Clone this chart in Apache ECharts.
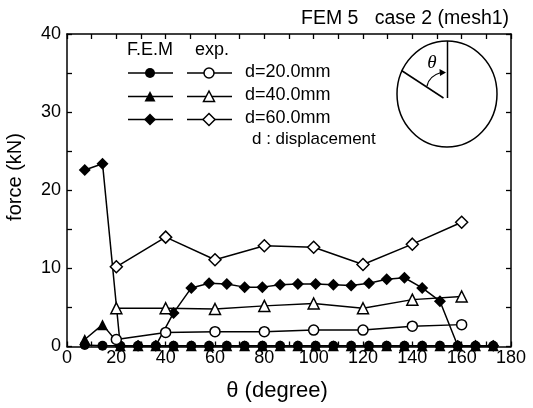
<!DOCTYPE html>
<html>
<head>
<meta charset="utf-8">
<script src="https://cdn.jsdelivr.net/npm/echarts@6/dist/echarts.min.js"></script>
<style>
  html, body { margin: 0; padding: 0; background: #fff; }
  #chart { width: 533px; height: 408px; }
</style>
</head>
<body>
<div id="chart"></div>
<script>
// Angle positions (degree) of the F.E.M nodes and of the experiment gauges
const thetaFem = [7.2, 14.4, 21.6, 28.8, 36.0, 43.2, 50.4, 57.6, 64.8, 72.0, 79.2, 86.4,
                  93.6, 100.8, 108.0, 115.2, 122.4, 129.6, 136.8, 144.0, 151.2, 158.4, 165.6, 172.8];
const thetaExp = [20, 40, 60, 80, 100, 120, 140, 160];

// F.E.M contact force (kN)
const femD20 = [0.2, 0.1, 0.1, 0.1, 0.1, 0.1, 0.1, 0.1, 0.1, 0.1, 0.1, 0.1,
                0.1, 0.1, 0.1, 0.1, 0.1, 0.1, 0.1, 0.1, 0.1, 0.1, 0.1, 0.1];
const femD40 = [0.9, 2.8, 0.1, 0.1, 0.1, 0.1, 0.1, 0.1, 0.1, 0.1, 0.1, 0.1,
                0.1, 0.1, 0.1, 0.1, 0.1, 0.1, 0.1, 0.1, 0.1, 0.1, 0.1, 0.1];
const femD60 = [22.6, 23.4, 0.1, 0.1, 0.1, 4.3, 7.5, 8.1, 8.0, 7.6, 7.6, 7.9,
                8.0, 8.0, 7.9, 7.8, 8.1, 8.6, 8.8, 7.5, 5.8, 0.1, 0.1, 0.1];

// Measured force (kN)
const expD20 = [0.9, 1.8, 1.9, 1.9, 2.1, 2.1, 2.6, 2.8];
const expD40 = [4.9, 4.9, 4.8, 5.2, 5.5, 4.9, 6.0, 6.4];
const expD60 = [10.2, 14.0, 11.1, 12.9, 12.7, 10.5, 13.1, 15.9];

const displacementLabels = ['d=20.0mm', 'd=40.0mm', 'd=60.0mm'];
const titleText = 'FEM 5   case 2 (mesh1)';

const FONT = 'Arial, "Liberation Sans", Helvetica, sans-serif';
const INK = '#000';
const LW = 1.5;

function pairs(xs, ys) { return xs.map((x, i) => [x, ys[i]]); }

function lineSeries(name, xs, ys, symbol, size, filled, z) {
  return {
    name: name,
    type: 'line',
    data: pairs(xs, ys),
    symbol: symbol,
    symbolSize: size,
    showSymbol: true,
    z: z,
    lineStyle: { color: INK, width: LW },
    itemStyle: { color: filled ? INK : '#fff', borderColor: INK, borderWidth: filled ? 0 : LW },
    emphasis: { disabled: true },
    animation: false
  };
}

// legend marker drawn as a graphic element
function marker(kind, cx, cy, filled) {
  const style = { fill: filled ? INK : '#fff', stroke: INK, lineWidth: filled ? 0 : LW };
  if (kind === 'circle') {
    return { type: 'circle', shape: { cx: cx, cy: cy, r: 5 }, style: style, z: 10 };
  }
  if (kind === 'triangle') {
    return { type: 'polygon', shape: { points: [[cx, cy - 5.5], [cx + 5.5, cy + 5], [cx - 5.5, cy + 5]] }, style: style, z: 10 };
  }
  return { type: 'polygon', shape: { points: [[cx, cy - 6], [cx + 6, cy], [cx, cy + 6], [cx - 6, cy]] }, style: style, z: 10 };
}

function legendGraphics() {
  const g = [];
  const rows = [73, 96.5, 119.5];
  const kinds = ['circle', 'triangle', 'diamond'];
  g.push({ type: 'text', x: 150, y: 50, style: { text: 'F.E.M', font: '18px ' + FONT, fill: INK, textAlign: 'center', textVerticalAlign: 'middle' } });
  g.push({ type: 'text', x: 212, y: 50, style: { text: 'exp.', font: '18px ' + FONT, fill: INK, textAlign: 'center', textVerticalAlign: 'middle' } });
  rows.forEach((y, i) => {
    g.push({ type: 'line', shape: { x1: 128, y1: y, x2: 173, y2: y }, style: { stroke: INK, lineWidth: LW } });
    g.push(marker(kinds[i], 150, y, true));
    g.push({ type: 'line', shape: { x1: 187, y1: y, x2: 232, y2: y }, style: { stroke: INK, lineWidth: LW } });
    g.push(marker(kinds[i], 209, y, false));
    g.push({ type: 'text', x: 245, y: y - 1, style: { text: displacementLabels[i], font: '18px ' + FONT, fill: INK, textAlign: 'left', textVerticalAlign: 'middle' } });
  });
  g.push({ type: 'text', x: 252, y: 139, style: { text: 'd : displacement', font: '17px ' + FONT, fill: INK, textAlign: 'left', textVerticalAlign: 'middle' } });
  return g;
}

// sketch of the pipe section with the angle convention
function sectionSketch() {
  return [
    { type: 'circle', shape: { cx: 447, cy: 94, r: 50 }, scaleY: 1.06, originX: 447, originY: 94,
      style: { fill: 'none', stroke: INK, lineWidth: LW } },
    { type: 'line', shape: { x1: 447.5, y1: 41, x2: 447.5, y2: 98 }, style: { stroke: INK, lineWidth: LW } },
    { type: 'line', shape: { x1: 401.5, y1: 70.5, x2: 443.5, y2: 98 }, style: { stroke: INK, lineWidth: LW } },
    { type: 'bezierCurve', shape: { x1: 427, y1: 86, cpx1: 429, cpy1: 76, x2: 441, y2: 72.5 },
      style: { fill: 'none', stroke: INK, lineWidth: 1.3 } },
    { type: 'polygon', shape: { points: [[446, 72.5], [439.5, 69], [440, 76]] }, style: { fill: INK } },
    { type: 'text', x: 432, y: 63, style: { text: 'θ', font: 'italic 19px "Liberation Serif", "Times New Roman", serif', fill: INK, textAlign: 'center', textVerticalAlign: 'middle' } }
  ];
}

const axisLineStyle = { color: INK, width: LW };
const tickStyle = { color: INK, width: 1.3 };

function frameAxis(position, min, max, interval, showLabels, labelMargin) {
  return {
    type: 'value', position: position, min: min, max: max, interval: interval,
    axisLine: { show: true, onZero: false, lineStyle: axisLineStyle },
    axisTick: { show: true, inside: true, length: 5, lineStyle: tickStyle },
    minorTick: { show: true, splitNumber: 2, length: 5, lineStyle: tickStyle },
    splitLine: { show: false },
    axisLabel: showLabels
      ? { fontFamily: FONT, fontSize: 18, color: INK, margin: labelMargin }
      : { show: false }
  };
}

const option = {
  backgroundColor: '#fff',
  animation: false,
  title: {
    text: titleText,
    left: 296, top: 4,
    textStyle: { fontFamily: FONT, fontSize: 19.5, fontWeight: 'normal', color: INK }
  },
  grid: { left: 67, right: 22, top: 34, bottom: 61.5 },
  xAxis: [
    frameAxis('bottom', 0, 180, 20, true, 3),
    frameAxis('top', 0, 180, 20, false, 0)
  ],
  yAxis: [
    frameAxis('left', 0, 40, 10, true, 6),
    frameAxis('right', 0, 40, 10, false, 0)
  ],
  graphic: [
    { type: 'text', x: 15, y: 177, rotation: Math.PI / 2,
      style: { text: 'force (kN)', font: '20px ' + FONT, fill: INK, textAlign: 'center', textVerticalAlign: 'middle' } },
    { type: 'text', x: 277, y: 391, style: { text: 'θ (degree)', font: '22px ' + FONT, fill: INK, textAlign: 'center', textVerticalAlign: 'middle' } }
  ].concat(legendGraphics(), sectionSketch()),
  series: [
    lineSeries('F.E.M d=20.0mm', thetaFem, femD20, 'circle', 10, true, 2),
    lineSeries('F.E.M d=40.0mm', thetaFem, femD40, 'triangle', 11, true, 2),
    lineSeries('F.E.M d=60.0mm', thetaFem, femD60, 'diamond', 12, true, 3),
    lineSeries('exp. d=20.0mm', thetaExp, expD20, 'circle', 10, false, 4),
    lineSeries('exp. d=40.0mm', thetaExp, expD40, 'triangle', 11, false, 4),
    lineSeries('exp. d=60.0mm', thetaExp, expD60, 'diamond', 12, false, 4)
  ]
};

const chart = echarts.init(document.getElementById('chart'), null, { renderer: 'canvas' });
chart.setOption(option);
</script>
</body>
</html>
